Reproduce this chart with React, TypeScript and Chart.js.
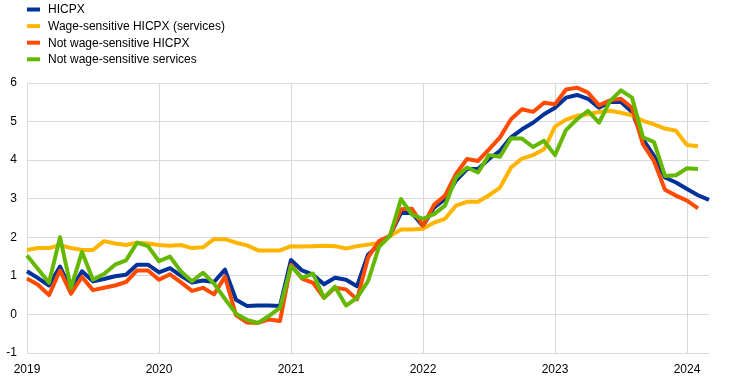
import React, { useEffect, useRef } from "react";
import { Chart, registerables } from "chart.js";

Chart.register(...registerables);

const years = ["2019", "2020", "2021", "2022", "2023", "2024"];
const monthsInLastYear = 3;

const hicpx = [
  1.12, 0.94, 0.75, 1.24, 0.64, 1.12, 0.86, 0.92, 0.99, 1.03, 1.29, 1.29,
  1.09, 1.2, 1.0, 0.83, 0.88, 0.84, 1.16, 0.38, 0.22, 0.23, 0.23, 0.22,
  1.41, 1.14, 1.03, 0.78, 0.95, 0.9, 0.73, 1.55, 1.81, 2.04, 2.63, 2.63,
  2.29, 2.77, 2.99, 3.47, 3.77, 3.77, 4.03, 4.24, 4.59, 4.8, 4.97, 5.19,
  5.36, 5.62, 5.69, 5.59, 5.36, 5.51, 5.51, 5.25, 4.54, 4.11, 3.55, 3.42,
  3.25, 3.09, 2.97,
];

const wageSensitive = [
  1.67, 1.72, 1.72, 1.8, 1.72, 1.67, 1.67, 1.9, 1.84, 1.8, 1.86, 1.84,
  1.8, 1.78, 1.8, 1.72, 1.74, 1.95, 1.95, 1.86, 1.79, 1.66, 1.66, 1.66,
  1.77, 1.76, 1.77, 1.78, 1.77, 1.71, 1.77, 1.81, 1.85, 2.03, 2.2, 2.2,
  2.22, 2.38, 2.48, 2.82, 2.92, 2.92, 3.09, 3.29, 3.81, 4.04, 4.13, 4.28,
  4.87, 5.05, 5.15, 5.19, 5.25, 5.28, 5.23, 5.16, 5.02, 4.93, 4.82, 4.76,
  4.39, 4.36,
];

const notWageHicpx = [
  0.93, 0.77, 0.5, 1.14, 0.54, 0.97, 0.63, 0.69, 0.75, 0.84, 1.14, 1.14,
  0.9, 1.04, 0.83, 0.61, 0.69, 0.52, 0.98, -0.02, -0.21, -0.22, -0.13, -0.17,
  1.29, 0.93, 0.82, 0.43, 0.69, 0.65, 0.39, 1.47, 1.9, 2.04, 2.73, 2.74,
  2.3, 2.84, 3.08, 3.64, 4.03, 3.98, 4.28, 4.59, 5.06, 5.32, 5.25, 5.49,
  5.45, 5.83, 5.88, 5.75, 5.42, 5.55, 5.59, 5.36, 4.41, 3.98, 3.23, 3.08,
  2.95, 2.75,
];

const notWageServices = [
  1.53, 1.18, 0.82, 2.0, 0.69, 1.62, 0.9, 1.05, 1.29, 1.4, 1.86, 1.77,
  1.38, 1.5, 1.11, 0.86, 1.08, 0.8, 0.4, 0.02, -0.14, -0.22, -0.04, 0.17,
  1.25, 0.95, 1.06, 0.43, 0.72, 0.23, 0.43, 0.86, 1.75, 2.04, 2.99, 2.59,
  2.48, 2.6, 2.82, 3.55, 3.81, 3.68, 4.13, 4.09, 4.57, 4.56, 4.34, 4.5,
  4.13, 4.78, 5.06, 5.28, 4.97, 5.53, 5.81, 5.62, 4.59, 4.47, 3.59, 3.61,
  3.79, 3.77,
];

const seriesNames = [
  "HICPX",
  "Wage-sensitive HICPX (services)",
  "Not wage-sensitive HICPX",
  "Not wage-sensitive services",
];
const seriesColors = ["#003299", "#FFB400", "#FF4B00", "#65B800"];

const FONT = "'Liberation Sans', Arial, Helvetica, sans-serif";

function buildMonths(): string[] {
  const out: string[] = [];
  years.forEach((y, yi) => {
    const n = yi === years.length - 1 ? monthsInLastYear : 12;
    for (let m = 1; m <= n; m++) out.push(`${y}-${String(m).padStart(2, "0")}`);
  });
  return out;
}

const legendPlugin = {
  id: "customLegend",
  afterDraw(chart: any) {
    const ctx = chart.ctx;
    ctx.save();
    ctx.font = `12px ${FONT}`;
    ctx.textBaseline = "middle";
    ctx.textAlign = "left";
    seriesNames.forEach((name, i) => {
      const y = 9.5 + i * 16.6;
      ctx.fillStyle = seriesColors[i];
      ctx.fillRect(27, y - 2, 13, 4);
      ctx.fillStyle = "#000000";
      ctx.fillText(name, 48, y + 0.5);
    });
    ctx.restore();
  },
};

export default function App() {
  const ref = useRef<HTMLCanvasElement>(null);

  useEffect(() => {
    if (!ref.current) return;
    const labels = buildMonths();
    const datasetsData = [hicpx, wageSensitive, notWageHicpx, notWageServices];
    const chart = new Chart(ref.current, {
      type: "line",
      data: {
        labels,
        datasets: datasetsData.map((d, i) => ({
          label: seriesNames[i],
          data: d,
          borderColor: seriesColors[i],
          backgroundColor: seriesColors[i],
          borderWidth: 4,
          pointRadius: 0,
          tension: 0,
          fill: false,
          borderJoinStyle: "round" as const,
          borderCapStyle: "butt" as const,
          order: 4 - i,
        })),
      },
      options: {
        responsive: false,
        animation: false,
        maintainAspectRatio: false,
        layout: { padding: { left: 0, right: 36, top: 83, bottom: 0 } },
        plugins: {
          legend: { display: false },
          tooltip: { enabled: false },
        },
        scales: {
          x: {
            type: "category",
            offset: false,
            border: { display: false },
            grid: {
              drawTicks: false,
              color: (c: any) =>
                c.index % 12 === 0 ? "#d9d9d9" : "rgba(0,0,0,0)",
              lineWidth: 1,
            },
            ticks: {
              autoSkip: false,
              maxRotation: 0,
              minRotation: 0,
              padding: 9,
              color: "#000000",
              font: { family: FONT, size: 12 },
              callback: (_v: any, idx: number) =>
                idx % 12 === 0 ? years[idx / 12] : "",
            },
            afterFit: (s: any) => {
              s.height = 26;
            },
          },
          y: {
            min: -1,
            max: 6,
            border: { display: false },
            grid: { drawTicks: false, color: "#d9d9d9", lineWidth: 1 },
            ticks: {
              stepSize: 1,
              padding: 10,
              color: "#000000",
              font: { family: FONT, size: 12 },
            },
            afterFit: (s: any) => {
              s.width = 27;
            },
          },
        },
      },
      plugins: [legendPlugin],
    });
    return () => chart.destroy();
  }, []);

  return (
    <div style={{ position: "absolute", left: 0, top: 0, width: 745, height: 379, background: "#fff" }}>
      <canvas ref={ref} width={745} height={379} style={{ display: "block" }} />
    </div>
  );
}
